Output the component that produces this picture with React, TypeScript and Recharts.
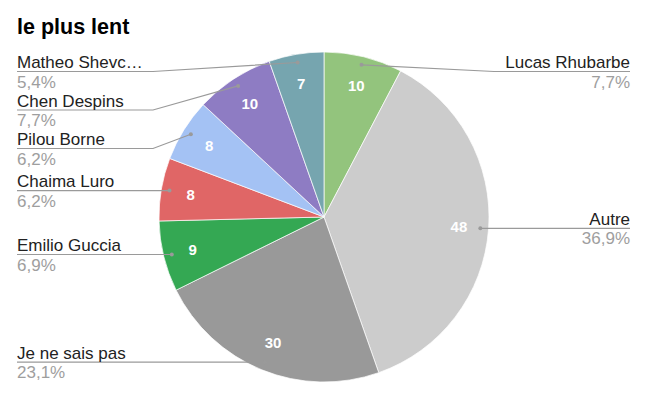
import { Cell, Pie, PieChart } from "recharts";

const names = [
  "Lucas Rhubarbe",
  "Autre",
  "Je ne sais pas",
  "Emilio Guccia",
  "Chaima Luro",
  "Pilou Borne",
  "Chen Despins",
  "Matheo Shevc…",
];
const values = [10, 48, 30, 9, 8, 8, 10, 7];
const colors = [
  "#93c47d",
  "#cccccc",
  "#999999",
  "#34a853",
  "#e06666",
  "#a4c2f4",
  "#8e7cc3",
  "#76a5af",
];

const FONT = "Arial, 'Liberation Sans', sans-serif";
const CX = 324;
const CY = 217;
const R = 165;
const LEFT_X = 17;
const RIGHT_X = 630;
const LABEL_GAP = 38.5;
const LABEL_MIN_Y = 71.5;

const data = names.map((name, i) => ({ name, value: values[i] }));
const total = values.reduce((a, b) => a + b, 0);

interface LabelSpot {
  dotX: number;
  dotY: number;
  valX: number;
  valY: number;
  side: "left" | "right";
  lineY: number;
}

// place each outer label near its slice, pushed down so they don't overlap
function layoutLabels(): LabelSpot[] {
  let acc = 0;
  const spots: LabelSpot[] = values.map((v) => {
    const a = ((acc + v / 2) / total) * Math.PI * 2;
    acc += v;
    const s = Math.sin(a);
    const c = Math.cos(a);
    return {
      dotX: CX + R * 0.95 * s,
      dotY: CY - R * 0.95 * c,
      valX: CX + R * 0.82 * s,
      valY: CY - R * 0.82 * c,
      side: s >= 0 ? "right" : "left",
      lineY: 0,
    };
  });
  for (const side of ["left", "right"]) {
    const group = spots.filter((p) => p.side === side).sort((a, b) => a.dotY - b.dotY);
    let prev = -Infinity;
    for (const p of group) {
      p.lineY = Math.max(p.dotY, prev + LABEL_GAP, LABEL_MIN_Y);
      prev = p.lineY;
    }
  }
  return spots;
}

const spots = layoutLabels();

function renderLabel(props: any) {
  const i = props.index as number;
  const p = spots[i];
  const left = p.side === "left";
  const tx = left ? LEFT_X : RIGHT_X;
  const bend = left ? CX - R - 6 : CX + R + 5;
  const pct = ((values[i] / total) * 100).toFixed(1).replace(".", ",") + "%";
  return (
    <g key={`lbl-${i}`}>
      <polyline
        points={`${tx},${p.lineY} ${bend},${p.lineY} ${p.dotX},${p.dotY}`}
        fill="none"
        stroke="#9a9a9a"
        strokeWidth={1.2}
      />
      <circle cx={p.dotX} cy={p.dotY} r={2} fill="#9a9a9a" />
      <text
        x={tx}
        y={p.lineY - 3.5}
        textAnchor={left ? "start" : "end"}
        fontSize={17}
        fontFamily={FONT}
        fill="#222222"
      >
        {names[i]}
      </text>
      <text
        x={tx}
        y={p.lineY + 16}
        textAnchor={left ? "start" : "end"}
        fontSize={17}
        fontFamily={FONT}
        fill="#9e9e9e"
      >
        {pct}
      </text>
      <text
        x={p.valX}
        y={p.valY}
        textAnchor="middle"
        dominantBaseline="central"
        fontSize={15}
        fontWeight="bold"
        fontFamily={FONT}
        fill="#ffffff"
      >
        {values[i]}
      </text>
    </g>
  );
}

export default function App() {
  return (
    <div style={{ position: "absolute", left: 0, top: 0, width: 649, height: 396, background: "#fff" }}>
      <div
        style={{
          position: "absolute",
          left: 17,
          top: 17,
          fontFamily: FONT,
          fontWeight: "bold",
          fontSize: 21.5,
          color: "#000",
          lineHeight: 1,
        }}
      >
        le plus lent
      </div>
      <PieChart width={649} height={396} margin={{ top: 0, right: 0, bottom: 0, left: 0 }}>
        <Pie
          data={data}
          dataKey="value"
          nameKey="name"
          cx={CX}
          cy={CY}
          outerRadius={R}
          startAngle={90}
          endAngle={-270}
          stroke="#ffffff"
          strokeWidth={0.7}
          label={renderLabel}
          labelLine={false}
          isAnimationActive={false}
        >
          {data.map((d, i) => (
            <Cell key={d.name} fill={colors[i]} />
          ))}
        </Pie>
      </PieChart>
    </div>
  );
}
